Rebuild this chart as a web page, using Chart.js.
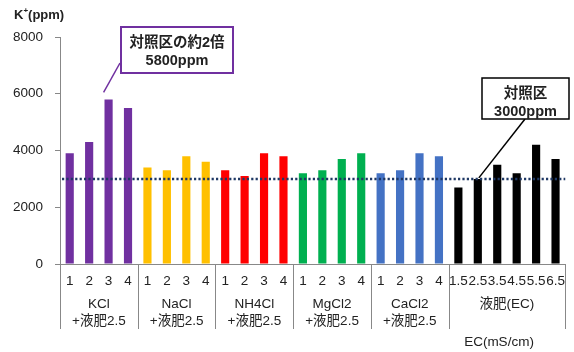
<!DOCTYPE html>
<html>
<head>
<meta charset="utf-8">
<script src="https://cdn.jsdelivr.net/npm/chart.js@4"></script>
<style>
  html, body { margin: 0; padding: 0; background: #fff; }
  canvas { display: block; }
</style>
</head>
<body>
<canvas id="kChart" width="574" height="352"></canvas>
<script>
// ─── data ───────────────────────────────────────────────
const categories = [
  '1', '2', '3', '4',
  '1', '2', '3', '4',
  '1', '2', '3', '4',
  '1', '2', '3', '4',
  '1', '2', '3', '4',
  '1.5', '2.5', '3.5', '4.5', '5.5', '6.5',
];
const potassium = [
  3900, 4300, 5800, 5500,   // KCl
  3400, 3300, 3800, 3600,   // NaCl
  3300, 3100, 3900, 3800,   // NH4Cl
  3200, 3300, 3700, 3900,   // MgCl2
  3200, 3300, 3900, 3800,   // CaCl2
  2700, 3000, 3500, 3200, 4200, 3700, // 液肥 EC
];
const groupNames = [
  ['KCl', '+液肥2.5'],
  ['NaCl', '+液肥2.5'],
  ['NH4Cl', '+液肥2.5'],
  ['MgCl2', '+液肥2.5'],
  ['CaCl2', '+液肥2.5'],
  ['液肥(EC)'],
];
const groupSizes  = [4, 4, 4, 4, 4, 6];
const groupColors = ['#7030A0', '#FFC000', '#FF0000', '#00B050', '#4472C4', '#000000'];
const controlLevel = 3000;
const yMax = 8000;
const yStep = 2000;

const FONT = '"Liberation Sans", Arial, "Noto Sans CJK JP", sans-serif';

const barColors = [];
groupSizes.forEach((n, g) => { for (let i = 0; i < n; i++) barColors.push(groupColors[g]); });

// ─── overlay: control line, group labels, callouts ─────
const overlay = {
  id: 'overlay',
  afterDatasetsDraw(chart) {
    const { ctx, scales: { x, y }, chartArea } = chart;
    const slot = (x.right - x.left) / categories.length;

    // control level (dotted)
    const yc = y.getPixelForValue(controlLevel);
    ctx.save();
    ctx.strokeStyle = '#1F3864';
    ctx.lineWidth = 2.5;
    ctx.setLineDash([2.2, 2.2]);
    ctx.beginPath();
    ctx.moveTo(chartArea.left + 2, yc);
    ctx.lineTo(chartArea.right, yc);
    ctx.stroke();
    ctx.restore();

    // group separators + names
    ctx.save();
    ctx.strokeStyle = '#888';
    ctx.lineWidth = 1;
    ctx.fillStyle = '#222';
    ctx.font = '13.5px ' + FONT;
    ctx.textAlign = 'center';
    ctx.textBaseline = 'middle';
    let start = 0;
    const bounds = [0];
    groupSizes.forEach(n => { start += n; bounds.push(start); });
    bounds.forEach(b => {
      const bx = Math.round(x.left + b * slot) + 0.5;
      ctx.beginPath();
      ctx.moveTo(bx, y.bottom);
      ctx.lineTo(bx, 329);
      ctx.stroke();
    });
    groupNames.forEach((lines, g) => {
      const cx = x.left + (bounds[g] + bounds[g + 1]) / 2 * slot;
      lines.forEach((t, i) => ctx.fillText(t, cx, 304 + i * 17));
    });
    ctx.fillText('EC(mS/cm)', 499, 342);

    // axis title
    ctx.font = 'bold 13px ' + FONT;
    ctx.textAlign = 'left';
    ctx.fillStyle = '#222';
    ctx.fillText('K', 14, 15);
    const kw = ctx.measureText('K').width;
    ctx.font = 'bold 8px ' + FONT;
    ctx.fillText('+', 14 + kw, 11);
    const pw = ctx.measureText('+').width;
    ctx.font = 'bold 13px ' + FONT;
    ctx.fillText('(ppm)', 14 + kw + pw, 15);
    ctx.restore();

    // callouts
    const callout = (idx, lines, box, color, lw, dx, dy) => {
      const bx = x.getPixelForValue(idx) + dx;
      const by = y.getPixelForValue(potassium[idx]) + dy;
      ctx.save();
      ctx.strokeStyle = color;
      ctx.lineWidth = 1.5;
      ctx.beginPath();
      ctx.moveTo(box.lx, box.ly);
      ctx.lineTo(bx, by);
      ctx.stroke();
      ctx.fillStyle = '#fff';
      ctx.fillRect(box.x, box.y, box.w, box.h);
      ctx.lineWidth = lw;
      ctx.strokeRect(box.x, box.y, box.w, box.h);
      ctx.fillStyle = '#222';
      ctx.font = 'bold 14.5px ' + FONT;
      ctx.textAlign = 'center';
      ctx.textBaseline = 'middle';
      lines.forEach((t, i) => ctx.fillText(t, box.x + box.w / 2, box.y + 16 + i * 18));
      ctx.restore();
    };
    callout(2, ['対照区の約2倍', '5800ppm'],
      { x: 121, y: 27, w: 112, h: 46, lx: 120, ly: 63 }, '#7030A0', 2, -5, -7);
    callout(21, ['対照区', '3000ppm'],
      { x: 482, y: 78, w: 87, h: 41, lx: 525, ly: 119 }, '#000', 1.5, 1, -1);
  }
};

new Chart(document.getElementById('kChart'), {
  type: 'bar',
  data: {
    labels: categories,
    datasets: [{
      data: potassium,
      backgroundColor: barColors,
      borderWidth: 0,
      barPercentage: 0.42,
      categoryPercentage: 1,
    }]
  },
  options: {
    responsive: false,
    animation: false,
    devicePixelRatio: 1,
    layout: { padding: { top: 37, right: 4, left: 0, bottom: 0 } },
    plugins: {
      legend: { display: false },
      tooltip: { enabled: false },
    },
    scales: {
      x: {
        grid: { display: false, drawTicks: false },
        border: { display: true, color: '#888', width: 1 },
        ticks: {
          color: '#222',
          font: { size: 13.5, family: FONT },
          autoSkip: false,
          maxRotation: 0,
          padding: 9,
        },
        afterFit: s => { s.height = 88; },
      },
      y: {
        min: 0,
        max: yMax,
        grid: { drawOnChartArea: false, drawTicks: true, tickLength: 5, color: '#888' },
        border: { display: true, color: '#888', width: 1 },
        ticks: {
          stepSize: yStep,
          color: '#222',
          font: { size: 13.5, family: FONT },
          padding: 12,
          callback: v => String(v),
        },
        afterFit: s => { s.width = 60; },
      }
    }
  },
  plugins: [overlay]
});
</script>
</body>
</html>
